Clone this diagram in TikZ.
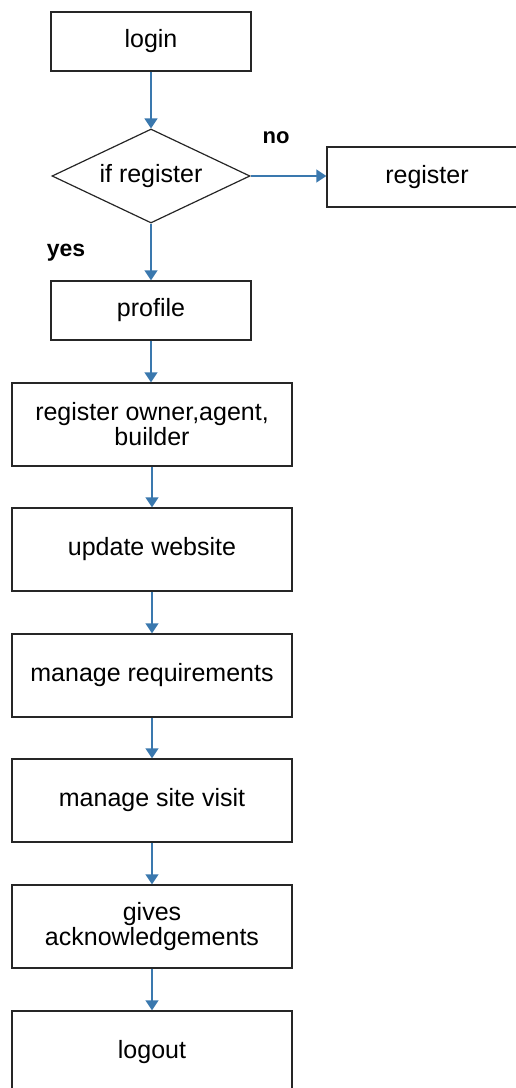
\documentclass[tikz,border=0pt]{standalone}
\usepackage{fontspec}
\setmainfont{Liberation Sans}
\usetikzlibrary{shapes.geometric,arrows.meta}
\definecolor{arrowblue}{HTML}{3A78AE}
\definecolor{boxline}{HTML}{262626}
\begin{document}
\begin{tikzpicture}[x=1pt,y=-1pt,
  procbox/.style={draw=boxline,line width=1.4pt,fill=white,rectangle,inner sep=0pt,
    align=center,font=\fontsize{25}{25}\selectfont},
  smallbox/.style={procbox,minimum width=200pt,minimum height=59pt},
  bigbox/.style={procbox,minimum width=280pt,minimum height=83pt},
  decision/.style={draw=boxline,line width=1.2pt,diamond,inner sep=0pt,aspect=2.1,
    minimum width=198pt,minimum height=94pt,font=\fontsize{25}{25}\selectfont},
  flow/.style={draw=arrowblue,line width=1.4pt,-{Triangle[width=13pt,length=10pt]}},
  answer/.style={font=\bfseries\fontsize{22}{22}\selectfont,inner sep=0pt}]
\useasboundingbox (0,0) rectangle (516,1088);
\begin{scope}
\clip (0,0) rectangle (516,1088);
\node[smallbox] (login) at (151,41.5) {login};
\node[decision] (ifreg) at (151,176) {if register};
\node[smallbox,minimum height=60pt] (register) at (427,177) {register};
\node[smallbox] (profile) at (151,310.5) {profile};
\node[bigbox] (owner) at (152,424.5) {register owner,agent,\\builder};
\node[bigbox] (update) at (152,549.5) {update website};
\node[bigbox] (req) at (152,675.5) {manage requirements};
\node[bigbox] (visit) at (152,800.5) {manage site visit};
\node[bigbox] (ack) at (152,926.5) {gives\\acknowledgements};
\node[bigbox] (logout) at (152,1052.5) {logout};
\node[answer] (no) at (276,138) {no};
\node[answer,font=\bfseries\fontsize{23}{23}\selectfont] (yes) at (66,253) {yes};
\draw[flow] (login.south -| ifreg.north) -- (ifreg.north);
\draw[flow] (ifreg.east) -- (ifreg.east -| register.west);
\draw[flow] (ifreg.south) -- (ifreg.south |- profile.north);
\draw[flow] (profile.south) -- (profile.south |- owner.north);
\draw[flow] (owner.south) -- (update.north);
\draw[flow] (update.south) -- (req.north);
\draw[flow] (req.south) -- (visit.north);
\draw[flow] (visit.south) -- (ack.north);
\draw[flow] (ack.south) -- (logout.north);
\end{scope}
\end{tikzpicture}
\end{document}
